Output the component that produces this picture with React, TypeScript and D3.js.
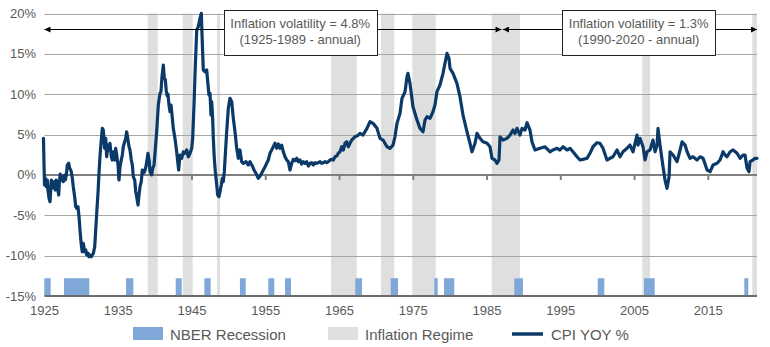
import React from "react";
import * as d3 from "d3";

// ---------- DATA ----------
const cpiYear = [
  1924.86, 1924.93, 1925.0, 1925.11, 1925.24, 1925.38, 1925.47, 1925.61, 1925.75, 1925.92,
  1926.06, 1926.19, 1926.38, 1926.46, 1926.6, 1926.74, 1926.93, 1927.01, 1927.14, 1927.28,
  1927.41, 1927.55, 1927.74, 1927.82, 1927.96, 1928.09, 1928.28, 1928.42, 1928.55, 1928.63,
  1928.77, 1928.9, 1929.09, 1929.23, 1929.37, 1929.54, 1929.68, 1929.85, 1929.99, 1930.12,
  1930.26, 1930.45, 1930.59, 1930.72, 1930.9, 1931.03, 1931.17, 1931.35, 1931.48, 1931.62,
  1931.81, 1931.94, 1932.08, 1932.25, 1932.39, 1932.52, 1932.7, 1932.84, 1932.97, 1933.16,
  1933.3, 1933.43, 1933.61, 1933.74, 1933.88, 1934.06, 1934.19, 1934.33, 1934.52, 1934.65,
  1934.79, 1934.97, 1935.1, 1935.24, 1935.41, 1935.55, 1935.68, 1935.87, 1936.01, 1936.14,
  1936.32, 1936.46, 1936.59, 1936.77, 1936.91, 1937.04, 1937.23, 1937.37, 1937.5, 1937.68,
  1937.81, 1937.95, 1938.12, 1938.26, 1938.4, 1938.58, 1938.8, 1939.03, 1939.21, 1939.3,
  1939.53, 1939.67, 1939.85, 1939.98, 1940.21, 1940.43, 1940.66, 1940.79, 1940.93, 1941.11,
  1941.24, 1941.38, 1941.5, 1941.62, 1941.74, 1941.88, 1942.02, 1942.15, 1942.29, 1942.46,
  1942.69, 1942.92, 1943.06, 1943.19, 1943.37, 1943.6, 1943.82, 1944.05, 1944.28, 1944.5,
  1944.73, 1944.96, 1945.09, 1945.27, 1945.45, 1945.64, 1945.85, 1946.08, 1946.26, 1946.39,
  1946.53, 1946.76, 1946.99, 1947.17, 1947.3, 1947.44, 1947.57, 1947.67, 1947.8, 1947.89,
  1948.02, 1948.16, 1948.35, 1948.48, 1948.66, 1948.79, 1948.97, 1949.11, 1949.24, 1949.38,
  1949.51, 1949.7, 1949.92, 1950.15, 1950.38, 1950.6, 1950.83, 1951.06, 1951.28, 1951.5,
  1951.73, 1951.95, 1952.32, 1952.63, 1952.86, 1953.23, 1953.4, 1953.68, 1953.99, 1954.31,
  1954.67, 1954.9, 1955.34, 1955.57, 1955.8, 1956.02, 1956.25, 1956.48, 1956.7, 1956.93,
  1957.16, 1957.38, 1957.61, 1957.84, 1958.05, 1958.28, 1958.51, 1958.73, 1958.96, 1959.19,
  1959.41, 1959.64, 1959.87, 1960.09, 1960.32, 1960.55, 1960.77, 1961.0, 1961.23, 1961.45,
  1961.68, 1961.91, 1962.13, 1962.36, 1962.59, 1962.8, 1963.03, 1963.26, 1963.48, 1963.71,
  1963.94, 1964.16, 1964.39, 1964.62, 1964.83, 1965.06, 1965.29, 1965.51, 1965.74, 1965.97,
  1966.19, 1966.42, 1966.65, 1966.87, 1967.1, 1967.33, 1967.54, 1967.77, 1968.18, 1968.72,
  1969.13, 1969.54, 1970.08, 1970.49, 1970.9, 1971.43, 1971.84, 1972.25, 1972.52, 1972.79,
  1973.2, 1973.47, 1973.88, 1974.15, 1974.28, 1974.55, 1974.96, 1975.5, 1975.91, 1976.32,
  1976.59, 1976.86, 1977.27, 1977.67, 1977.94, 1978.21, 1978.62, 1979.03, 1979.3, 1979.57,
  1979.84, 1979.98, 1980.39, 1980.92, 1981.33, 1981.74, 1982.28, 1982.69, 1982.96, 1983.37,
  1983.64, 1984.05, 1984.45, 1985.0, 1985.4, 1985.67, 1986.08, 1986.35, 1986.62, 1986.76,
  1987.16, 1987.7, 1988.11, 1988.52, 1988.79, 1989.06, 1989.47, 1989.74, 1990.14, 1990.42,
  1990.82, 1991.09, 1991.5, 1992.18, 1992.86, 1993.54, 1993.94, 1994.49, 1994.89, 1995.3,
  1995.84, 1996.25, 1996.65, 1997.2, 1997.6, 1998.01, 1998.55, 1998.96, 1999.36, 1999.91,
  2000.31, 2000.72, 2001.26, 2001.67, 2002.08, 2002.62, 2003.03, 2003.43, 2003.98, 2004.38,
  2004.79, 2005.33, 2005.47, 2005.74, 2006.15, 2006.42, 2006.69, 2007.1, 2007.5, 2007.78,
  2008.05, 2008.18, 2008.45, 2008.86, 2009.13, 2009.4, 2009.68, 2009.81, 2010.22, 2010.76,
  2011.17, 2011.44, 2011.85, 2012.12, 2012.52, 2012.93, 2013.47, 2013.88, 2014.29, 2014.83,
  2015.24, 2015.64, 2016.19, 2016.59, 2017.0, 2017.27, 2017.54, 2017.95, 2018.36, 2018.9,
  2019.3, 2019.71, 2019.98, 2020.25, 2020.52, 2020.66, 2021.06, 2021.33, 2021.6,
];

const cpiYoy = [
  4.53, 1.47, -1.24, -0.38, -1.46, -0.63, -1.87, -2.86, -3.32, -0.63,
  -1.0, -1.62, -0.84, -1.87, -0.63, -1.46, -2.49, -1.0, 0.11, -0.63,
  -0.22, -0.84, -0.01, -0.63, 0.0, 1.23, 1.44, 0.82, 0.61, 0.4,
  -0.38, -1.46, -2.7, -3.94, -4.14, -3.94, -5.18, -7.24, -8.69, -9.52,
  -8.47, -9.52, -9.3, -9.92, -9.71, -10.13, -9.92, -10.13, -9.92, -9.71,
  -8.9, -6.83, -4.76, -2.28, 0.24, 2.25, 4.32, 5.77, 5.56, 3.3,
  4.53, 2.25, 3.7, 3.09, 3.92, 2.25, 1.85, 2.87, 1.85, 3.3,
  2.47, 1.23, -0.63, 1.02, 1.85, 2.47, 3.49, 4.11, 4.53, 5.35,
  4.32, 3.49, 3.09, 1.85, 1.23, -0.22, -0.63, -2.08, -2.7, -3.73,
  -2.49, -1.46, -0.84, 0.61, 0.24, 0.4, 1.23, 2.68, 1.64, 0.4,
  0.0, 0.82, 1.23, 2.68, 5.35, 8.66, 10.11, 10.31, 12.17, 13.62,
  12.0, 11.8, 10.5, 9.8, 10.0, 8.66, 7.83, 8.66, 7.42, 5.77,
  4.53, 2.87, 1.64, 0.61, 2.47, 2.06, 2.87, 2.68, 3.09, 2.25,
  2.68, 3.3, 4.53, 8.66, 13.62, 17.95, 18.36, 19.4, 20.02, 16.5,
  13.0, 12.79, 13.0, 11.14, 9.9, 10.11, 7.42, 9.07, 7.01, 4.53,
  2.06, 0.4, -1.25, -2.49, -2.7, -2.08, -1.25, -0.42, -0.84, 0.4,
  2.47, 5.35, 8.25, 9.49, 9.07, 7.01, 5.35, 3.3, 2.06, 3.09,
  1.64, 1.44, 1.64, 1.23, 1.64, 1.02, 0.61, 0.2, -0.42, -0.01,
  0.61, 1.02, 1.85, 2.68, 3.09, 3.49, 3.92, 3.3, 3.83, 3.3,
  3.7, 2.87, 2.25, 1.85, 1.64, 0.61, 1.44, 1.93, 1.76, 2.06,
  1.64, 1.85, 1.35, 1.64, 1.44, 1.64, 1.1, 1.44, 1.51, 1.23,
  1.51, 1.44, 1.51, 1.64, 1.44, 1.51, 1.64, 1.51, 1.64, 1.85,
  1.93, 1.85, 2.25, 2.34, 2.68, 2.87, 3.49, 3.09, 3.92, 4.11,
  3.49, 3.92, 4.32, 4.53, 4.73, 4.82, 4.94, 5.15, 4.94, 5.77,
  6.59, 6.39, 5.77, 4.53, 4.32, 3.49, 3.3, 3.7, 4.73, 6.39,
  7.63, 9.49, 10.31, 12.17, 12.59, 11.35, 8.45, 6.8, 5.77, 5.35,
  6.8, 7.21, 7.01, 7.83, 8.66, 10.31, 11.14, 12.59, 13.83, 15.07,
  14.45, 13.21, 12.59, 11.35, 9.69, 7.42, 5.35, 3.92, 2.87, 3.92,
  5.15, 4.53, 4.11, 3.92, 3.49, 2.06, 1.85, 1.44, 1.85, 4.73,
  4.32, 4.53, 4.94, 5.56, 5.15, 5.77, 4.94, 5.77, 5.56, 6.47,
  5.56, 4.11, 3.09, 3.3, 3.49, 2.87, 3.09, 3.3, 3.09, 3.49,
  3.09, 3.3, 2.87, 2.25, 1.85, 1.93, 2.06, 2.68, 3.49, 3.99,
  3.92, 3.3, 1.85, 2.06, 2.25, 3.09, 2.25, 2.87, 3.3, 3.7,
  2.87, 4.94, 3.7, 4.53, 3.49, 1.85, 2.87, 3.09, 4.32, 2.87,
  3.7, 5.77, 3.7, 1.02, -0.63, -1.66, -0.22, 2.87, 2.47, 1.64,
  3.09, 4.11, 3.7, 2.87, 2.06, 2.25, 1.85, 2.25, 2.06, 0.61,
  0.4, 1.23, 1.44, 1.85, 2.87, 2.47, 2.25, 2.87, 3.09, 2.68,
  2.06, 2.47, 2.47, 0.82, 0.4, 1.64, 1.85, 2.06, 2.06,
];

const recessionStart = [1924.97, 1927.64, 1936.05, 1942.79, 1946.67, 1951.5, 1955.34, 1957.61, 1967.14, 1971.94, 1977.85, 1979.16, 1988.69, 2000.0, 2006.28, 2019.88];
const recessionEnd = [1925.84, 1931.07, 1937.04, 1943.6, 1947.53, 1952.28, 1956.16, 1958.42, 1968.05, 1972.93, 1978.31, 1980.56, 1989.87, 2000.9, 2007.73, 2020.42];
const recessionLevel = -12.8;

const regimeStart = [1938.99, 1943.74, 1948.39, 1963.84, 1970.62, 1974.86, 1985.63, 2006.05, 2020.96];
const regimeEnd = [1940.35, 1945.09, 1948.79, 1967.33, 1972.42, 1978.04, 1989.47, 2007.1, 2021.6];

const yTicks = [20, 15, 10, 5, 0, -5, -10, -15];
const xTicks = [1925, 1935, 1945, 1955, 1965, 1975, 1985, 1995, 2005, 2015];

const noteLine1 = ["Inflation volatility = 4.8%", "Inflation volatility = 1.3%"];
const noteLine2 = ["(1925-1989 - annual)", "(1990-2020 - annual)"];
const noteCenter = [1959.67, 2005.56];
const arrowFrom = [1925, 1987.16];
const arrowTo = [1986.96, 2021.6];
const arrowLevel = 18.05;

const legendLabels = ["NBER Recession", "Inflation Regime", "CPI YOY %"];

// ---------- STYLE ----------
const W = 770;
const H = 347;
const FONT = "'Liberation Sans', Arial, sans-serif";
const LINE_COLOR = "#0b3a68";
const REC_COLOR = "#7fa8d8";
const REGIME_COLOR = "#dfdfdf";
const TEXT_COLOR = "#595959";

export default function App() {
  const x = d3.scaleLinear().domain([1925, 2021.6]).range([44.5, 757]);
  const y = d3.scaleLinear().domain([-15, 20]).range([296, 13.5]);
  const pts: [number, number][] = cpiYear.map((t, i) => [t, cpiYoy[i]]);
  const line = d3
    .line<[number, number]>()
    .x((d) => x(d[0]))
    .y((d) => y(d[1]));
  const x0 = x.range()[0];
  const x1 = x.range()[1];
  const crisp = (v: number) => Math.round(v) + 0.5;

  const boxW = 153;
  const boxH = 45;
  const boxTop = 10;

  return (
    <svg
      width={W}
      height={H}
      viewBox={`0 0 ${W} ${H}`}
      style={{ position: "absolute", left: 0, top: 0, background: "#fff" }}
      fontFamily={FONT}
    >
      <defs>
        <marker id="arrR" viewBox="0 0 10 10" refX="10" refY="5" markerWidth="7" markerHeight="6" orient="auto" markerUnits="userSpaceOnUse">
          <path d="M0,0 L10,5 L0,10 z" fill="#000" />
        </marker>
        <marker id="arrL" viewBox="0 0 10 10" refX="0" refY="5" markerWidth="7" markerHeight="6" orient="auto" markerUnits="userSpaceOnUse">
          <path d="M10,0 L0,5 L10,10 z" fill="#000" />
        </marker>
      </defs>

      {/* inflation regime bands */}
      {regimeStart.map((s, i) => (
        <rect
          key={"rg" + i}
          x={x(s)}
          y={y(20)}
          width={x(regimeEnd[i]) - x(s)}
          height={y(-15) - y(20)}
          fill={REGIME_COLOR}
        />
      ))}

      {/* gridlines */}
      {yTicks
        .filter((t) => t !== 0 && t !== -15)
        .map((t) => (
          <line key={"g" + t} x1={x0} x2={x1} y1={crisp(y(t))} y2={crisp(y(t))} stroke="#a6a6a6" strokeWidth={1} />
        ))}

      {/* NBER recession bars */}
      {recessionStart.map((s, i) => (
        <rect
          key={"rc" + i}
          x={x(s)}
          y={y(recessionLevel)}
          width={x(recessionEnd[i]) - x(s)}
          height={y(-15) - y(recessionLevel)}
          fill={REC_COLOR}
        />
      ))}

      {/* zero line + ticks */}
      <line x1={x0} x2={x1} y1={y(0)} y2={y(0)} stroke="#7f7f7f" strokeWidth={2} />
      {xTicks.map((t) => (
        <line key={"tk" + t} x1={x(t)} x2={x(t)} y1={y(0)} y2={y(0) + 5} stroke="#7f7f7f" strokeWidth={2} />
      ))}
      {/* bottom axis line */}
      <line x1={x0} x2={x1} y1={y(-15)} y2={y(-15)} stroke="#6b6b6b" strokeWidth={2} />

      {/* CPI line */}
      <path d={line(pts) || ""} fill="none" stroke={LINE_COLOR} strokeWidth={3.2} strokeLinejoin="round" strokeLinecap="round" />

      {/* y labels */}
      {yTicks.map((t) => (
        <text key={"yl" + t} x={36} y={y(t) + 4.5} textAnchor="end" fontSize={13} fill={TEXT_COLOR}>
          {t + "%"}
        </text>
      ))}

      {/* x labels */}
      {xTicks.map((t) => (
        <text key={"xl" + t} x={x(t)} y={315} textAnchor="middle" fontSize={13} fill={TEXT_COLOR}>
          {t}
        </text>
      ))}

      {/* arrows */}
      {arrowFrom.map((a, i) => (
        <line
          key={"ar" + i}
          x1={x(a)}
          x2={x(arrowTo[i])}
          y1={crisp(y(arrowLevel))}
          y2={crisp(y(arrowLevel))}
          stroke="#000"
          strokeWidth={1}
          markerStart="url(#arrL)"
          markerEnd="url(#arrR)"
        />
      ))}

      {/* annotation boxes */}
      {noteCenter.map((c, i) => (
        <g key={"nb" + i}>
          <rect x={Math.round(x(c) - boxW / 2) + 0.5} y={boxTop + 0.5} width={boxW} height={boxH} fill="#fff" stroke="#222" strokeWidth={1} />
          <text x={x(c)} y={boxTop + 18} textAnchor="middle" fontSize={13} fill={TEXT_COLOR}>
            {noteLine1[i]}
          </text>
          <text x={x(c)} y={boxTop + 34} textAnchor="middle" fontSize={13} fill={TEXT_COLOR}>
            {noteLine2[i]}
          </text>
        </g>
      ))}

      {/* legend */}
      <rect x={133} y={327} width={30} height={13} fill={REC_COLOR} />
      <text x={170} y={340} fontSize={15} fill={TEXT_COLOR}>
        {legendLabels[0]}
      </text>
      <rect x={328} y={327} width={30} height={13} fill={REGIME_COLOR} />
      <text x={365} y={340} fontSize={15} fill={TEXT_COLOR}>
        {legendLabels[1]}
      </text>
      <line x1={512} x2={543} y1={334} y2={334} stroke={LINE_COLOR} strokeWidth={3.5} />
      <text x={551} y={340} fontSize={15} fill={TEXT_COLOR}>
        {legendLabels[2]}
      </text>
    </svg>
  );
}
